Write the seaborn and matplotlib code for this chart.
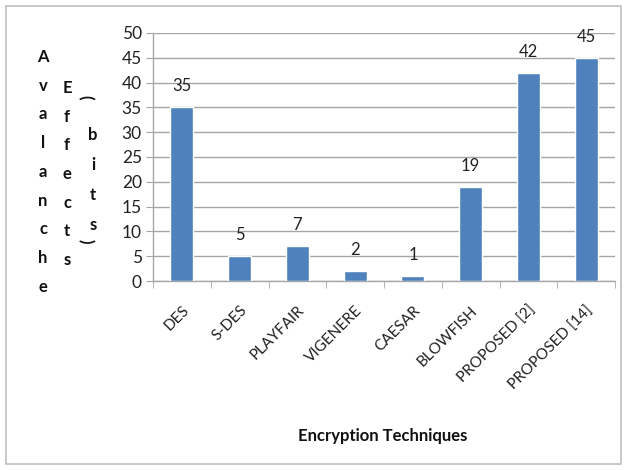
import matplotlib
matplotlib.use("Agg")
import matplotlib.pyplot as plt
import seaborn as sns
import pandas as pd
from matplotlib.patches import Rectangle

# data
techniques = ["DES", "S-DES", "PLAYFAIR", "VIGENERE", "CAESAR",
              "BLOWFISH", "PROPOSED [2]", "PROPOSED [14]"]
avalanche = [35, 5, 7, 2, 1, 19, 42, 45]
yticks = list(range(0, 51, 5))

df = pd.DataFrame({"tech": techniques, "bits": avalanche})

sns.set_style("white")
plt.rcParams["font.family"] = ["Lato", "DejaVu Sans"]

fig = plt.figure(figsize=(6.27, 4.70), dpi=100)
ax = fig.add_axes([0.244, 0.402, 0.737, 0.528])

sns.barplot(data=df, x="tech", y="bits", color="#4F81BD", width=0.4,
            saturation=1, ax=ax, zorder=3)

ax.set_ylim(0, 50)
ax.set_xlim(-0.5, len(techniques) - 0.5)
ax.set_yticks(yticks)
ax.set_yticklabels([str(v) for v in yticks], fontsize=12.5, color="#222222")
ax.yaxis.grid(True, color="#A6A6A6", linewidth=1.0, zorder=0)
ax.xaxis.grid(False)

for s in ["top", "right"]:
    ax.spines[s].set_visible(False)
for s in ["left", "bottom"]:
    ax.spines[s].set_color("#A6A6A6")
    ax.spines[s].set_linewidth(1.0)

ax.tick_params(axis="y", length=5, color="#A6A6A6", left=True, pad=3)
ax.set_xticks(range(len(techniques)))
ax.set_xticklabels(techniques, rotation=45, ha="right", rotation_mode="anchor",
                   fontsize=11, color="#222222")
ax.tick_params(axis="x", which="major", length=0, pad=16)
ax.set_xticks([i - 0.5 for i in range(len(techniques) + 1)], minor=True)
ax.tick_params(axis="x", which="minor", length=5, color="#A6A6A6", bottom=True)

# value labels
for i, v in enumerate(avalanche):
    ax.text(i, v + 2.6, str(v), ha="center", va="bottom", fontsize=12,
            color="#222222")

ax.set_xlabel("")
ax.set_ylabel("")
fig.text(0.611, 0.073, "Encryption Techniques", ha="center", va="center",
         fontsize=12, fontweight="bold", color="#111111")

# stacked y label
row = 28.7
lab = dict(ha="center", va="center", fontsize=12, fontweight="bold",
           color="#111111")
for k, ch in enumerate("Avalanche"):
    fig.text(43 / 627, 1 - (57 + k * row) / 470, ch, **lab)
for k, ch in enumerate("Effects"):
    fig.text(67 / 627, 1 - (88 + k * row) / 470, ch, **lab)
fig.text(85 / 627, 1 - 97 / 470, "(", rotation=-90, **lab)
for k, ch in enumerate("bits"):
    fig.text(93 / 627, 1 - (135 + k * 30) / 470, ch, **lab)
fig.text(85 / 627, 1 - 241 / 470, ")", rotation=-90, **lab)

# outer frame
fig.patches.append(Rectangle((6 / 627, 6 / 470), 615 / 627, 458 / 470,
                             transform=fig.transFigure, fill=False,
                             edgecolor="#BFBFBF", linewidth=1.2))

fig.savefig("out.png", dpi=100)
